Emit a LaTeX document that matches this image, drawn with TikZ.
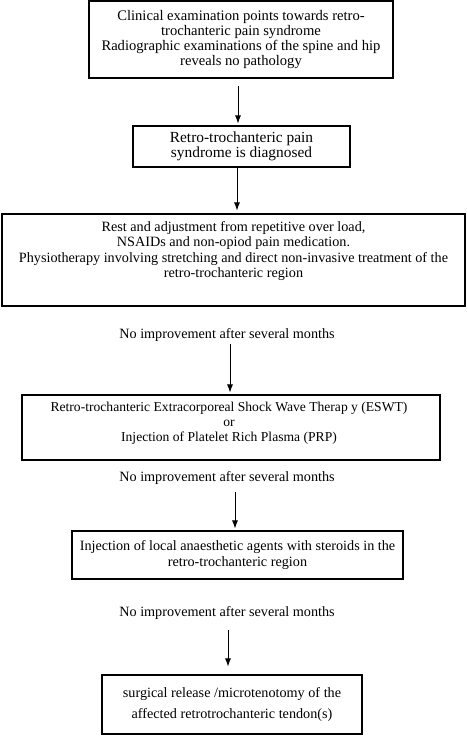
\documentclass[tikz,border=0pt]{standalone}
\usepackage{fontspec}
\setmainfont{Liberation Serif}
\usetikzlibrary{arrows.meta}
\begin{document}
\begin{tikzpicture}[x=1pt,y=-1pt,
  box/.style={draw, line width=1.1pt, inner sep=0pt, align=center},
  lbl/.style={inner sep=0pt, align=center},
  arr/.style={draw, line width=0.9pt, -{Latex[length=8pt,width=6pt]}},
  font=\fontsize{14.2pt}{15.2pt}\selectfont]
\useasboundingbox (0,0) rectangle (468,736);

\node[box, minimum width=304pt, minimum height=77pt, font=\fontsize{14.6pt}{15.2pt}\selectfont] (b1) at (241,39.5)
  {Clinical examination points towards retro-\\trochanteric pain syndrome\\Radiographic examinations of the spine and hip\\reveals no pathology};
\node[box, minimum width=217pt, minimum height=41pt, font=\fontsize{15.4pt}{15.4pt}\selectfont] (b2) at (241.5,146.5)
  {Retro-trochanteric pain\\syndrome is diagnosed};
\node[box, minimum width=463pt, minimum height=92pt] (b3) at (233.5,260) {};
\node[lbl] (t3) at (233.5,251)
  {Rest and adjustment from repetitive over load,\\NSAIDs and non-opiod pain medication.\\Physiotherapy involving stretching and direct non-invasive treatment of the\\retro-trochanteric region};
\node[lbl] (n1) at (227,335) {No improvement after several months};
\node[box, minimum width=418pt, minimum height=65pt] (b4) at (231,427.5) {};
\node[lbl, font=\fontsize{13.6pt}{15pt}\selectfont] (t4) at (229,423)
  {Retro-trochanteric Extracorporeal Shock Wave Therap y (ESWT)\\or\\Injection of Platelet Rich Plasma (PRP)};
\node[lbl] (n2) at (227,478) {No improvement after several months};
\node[box, minimum width=331pt, minimum height=48pt] (b5) at (237.5,555)
  {Injection of local anaesthetic agents with steroids in the\\retro-trochanteric region};
\node[lbl] (n3) at (227,613) {No improvement after several months};
\node[box, minimum width=260pt, minimum height=59pt] (b6) at (232,704.5)
  {surgical release /microtenotomy of the\\[6pt]affected retrotrochanteric tendon(s)};

\draw[arr, shorten <=7pt, shorten >=2pt] ([xshift=-3pt]b1.south) -- ([xshift=-3pt]b1.south |- b2.north);
\draw[arr, shorten >=3pt] ([xshift=-4.5pt]b2.south) -- ([xshift=-4.5pt]b2.south |- b3.north);
\draw[arr, shorten <=2pt, shorten >=2pt] ([xshift=3pt]n1.south) -- ([xshift=3pt]n1.south |- b4.north);
\draw[arr, shorten <=7pt, shorten >=2pt] ([xshift=8pt]n2.south) -- ([xshift=8pt]n2.south |- b5.north);
\draw[arr, shorten <=10pt, shorten >=8pt] ([xshift=1pt]n3.south) -- ([xshift=1pt]n3.south |- b6.north);
\end{tikzpicture}
\end{document}
